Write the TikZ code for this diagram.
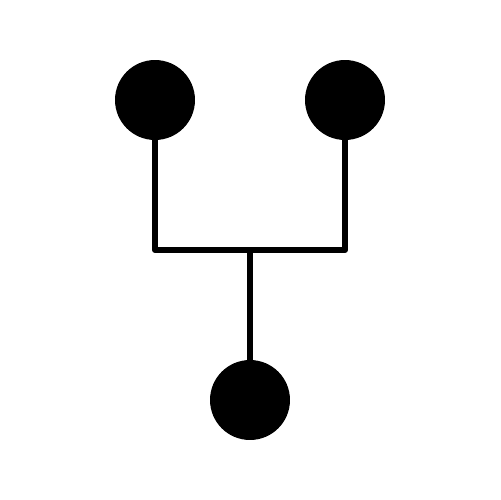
\documentclass[tikz,border=0pt]{standalone}
\begin{document}
\begin{tikzpicture}[x=0.02cm,y=-0.02cm,
  dot/.style={circle,fill=black,draw=none,minimum size=1.6cm,inner sep=0pt},
  wire/.style={line width=0.12cm,line join=round,line cap=round}]
\useasboundingbox (0,0) rectangle (500,500);
\node[dot] (a) at (155,100) {};
\node[dot] (b) at (345,100) {};
\node[dot] (c) at (250,400) {};
\coordinate (j) at (250,250);
\draw[wire] (a.center) |- (j) -| (b.center);
\draw[wire] (j) -- (c.center);
\end{tikzpicture}
\end{document}
